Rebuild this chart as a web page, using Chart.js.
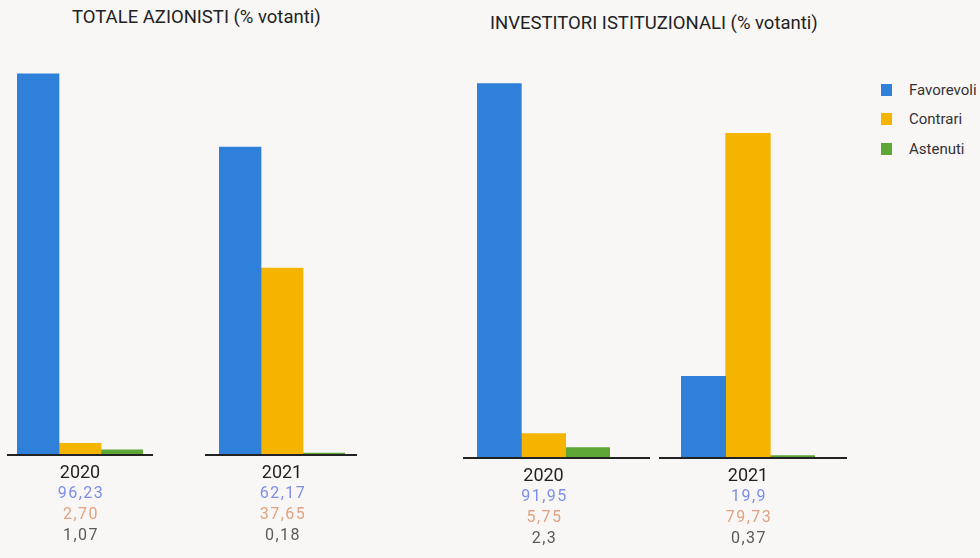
<!DOCTYPE html>
<html>
<head>
<meta charset="utf-8">
<script src="https://cdn.jsdelivr.net/npm/chart.js@4/dist/chart.umd.min.js"></script>
<style>
  body { margin: 0; background: #f8f7f6; font-family: Roboto, sans-serif; }
  #wrap { position: relative; width: 980px; height: 558px; overflow: hidden; }
  canvas { position: absolute; top: 0; }
  .titolo { position: absolute; font-size: 18.5px; color: #222; white-space: nowrap; }
  #legenda { position: absolute; left: 881px; top: 75px; font-size: 15px; color: #333; }
  #legenda div { height: 29.5px; display: flex; align-items: center; }
  #legenda span { display: inline-block; width: 11px; height: 12px; margin-right: 17px; }
</style>
</head>
<body>
<div id="wrap">
  <div class="titolo" style="left:72px; top:6px;">TOTALE AZIONISTI (% votanti)</div>
  <div class="titolo" style="left:490px; top:12px;">INVESTITORI ISTITUZIONALI (% votanti)</div>
  <canvas id="tot2020" width="146" height="558" style="left:7px"></canvas>
  <canvas id="tot2021" width="152" height="558" style="left:205px"></canvas>
  <canvas id="ist2020" width="187" height="558" style="left:463px"></canvas>
  <canvas id="ist2021" width="188" height="558" style="left:659px"></canvas>
  <div id="legenda"></div>
</div>
<script>
// anni e serie
var anni = ['2020', '2021'];
var serie = ['Favorevoli', 'Contrari', 'Astenuti'];
var coloriBarre = ['#2f80d8', '#f4b400', '#5ea636'];
var coloriValori = ['#7d8ee6', '#e2a27f', '#5a5a5a'];

// valori come scritti sotto le barre (% votanti)
var totFavorevoli = ['96,23', '62,17'];
var totContrari = ['2,70', '37,65'];
var totAstenuti = ['1,07', '0,18'];

var istFavorevoli = ['91,95', '19,9'];
var istContrari = ['5,75', '79,73'];
var istAstenuti = ['2,3', '0,37'];

// massimo asse y per ogni pannello
var totMax = [100, 80];
var istMax = [100, 100];

function num(s) {
  return parseFloat(s.replace(',', '.'));
}

// linea di base + anno + valori sotto il grafico
var etichette = {
  id: 'etichette',
  afterDraw: function(chart) {
    var ctx = chart.ctx;
    var area = chart.chartArea;
    var x = chart.scales.x.getPixelForValue(0);
    ctx.save();
    ctx.strokeStyle = '#222';
    ctx.lineWidth = 2;
    ctx.beginPath();
    ctx.moveTo(0, area.bottom + 1);
    ctx.lineTo(chart.width, area.bottom + 1);
    ctx.stroke();

    ctx.textAlign = 'center';
    ctx.textBaseline = 'middle';
    ctx.fillStyle = '#222';
    ctx.font = '18px Roboto';
    ctx.fillText(chart.data.labels[0], x, area.bottom + 19);

    ctx.font = '16px Roboto';
    ctx.letterSpacing = '1.5px';
    chart.data.datasets.forEach(function(ds, i) {
      ctx.fillStyle = coloriValori[i];
      ctx.fillText(ds.testo, x + 1, area.bottom + 40 + i * 21);
    });
    ctx.restore();
  }
};

function creaPannello(id, anno, fav, con, ast, max, pad) {
  var ctx = document.getElementById(id).getContext('2d');
  var valori = [fav, con, ast];
  return new Chart(ctx, {
    type: 'bar',
    data: {
      labels: [anno],
      datasets: serie.map(function(nome, i) {
        return {
          label: nome,
          data: [num(valori[i])],
          testo: valori[i],
          backgroundColor: coloriBarre[i],
          barPercentage: 1,
          categoryPercentage: 1
        };
      })
    },
    options: {
      responsive: false,
      devicePixelRatio: 1,
      animation: false,
      layout: { padding: pad },
      plugins: { legend: { display: false }, tooltip: { enabled: false } },
      scales: {
        x: { display: false },
        y: { display: false, min: 0, max: max }
      }
    },
    plugins: [etichette]
  });
}

creaPannello('tot2020', anni[0], totFavorevoli[0], totContrari[0], totAstenuti[0], totMax[0],
  { top: 59, bottom: 104, left: 10, right: 10 });
creaPannello('tot2021', anni[1], totFavorevoli[1], totContrari[1], totAstenuti[1], totMax[1],
  { top: 59, bottom: 104, left: 14, right: 12 });
creaPannello('ist2020', anni[0], istFavorevoli[0], istContrari[0], istAstenuti[0], istMax[0],
  { top: 51, bottom: 101, left: 14, right: 40 });
creaPannello('ist2021', anni[1], istFavorevoli[1], istContrari[1], istAstenuti[1], istMax[1],
  { top: 51, bottom: 101, left: 22, right: 32 });

// legenda
var legenda = document.getElementById('legenda');
serie.forEach(function(nome, i) {
  var riga = document.createElement('div');
  var quadrato = document.createElement('span');
  quadrato.style.background = coloriBarre[i];
  riga.appendChild(quadrato);
  riga.appendChild(document.createTextNode(nome));
  legenda.appendChild(riga);
});
</script>
</body>
</html>
